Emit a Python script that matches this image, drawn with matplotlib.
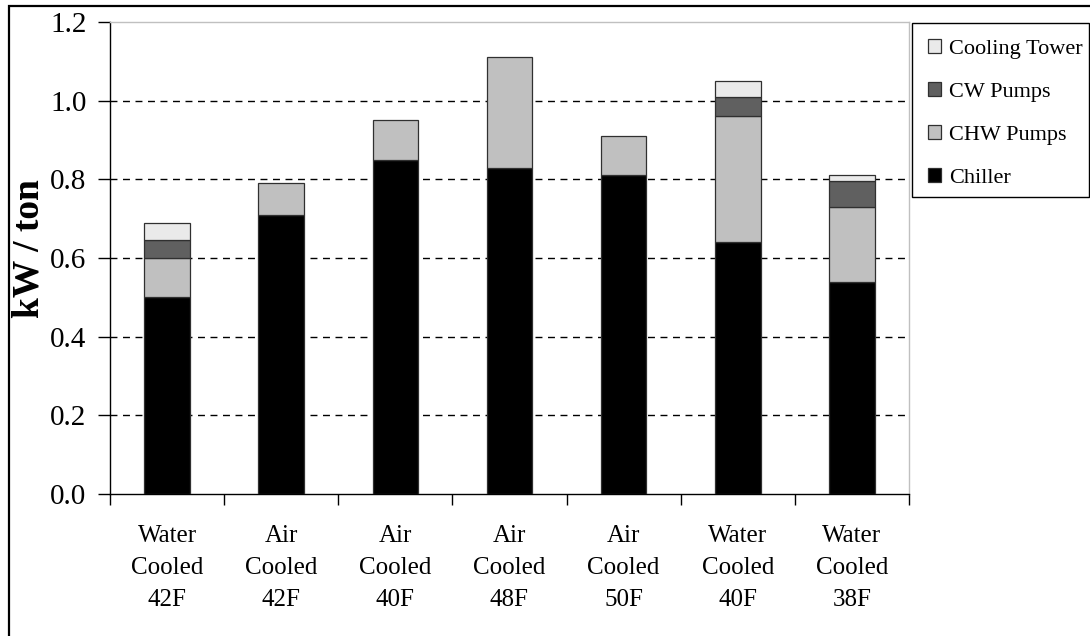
import numpy as np
import matplotlib
matplotlib.use('Agg')
import matplotlib.pyplot as plt
from matplotlib.patches import Patch, Rectangle
from matplotlib import rcParams

rcParams.update({
    'font.family': ['Liberation Serif', 'DejaVu Serif'],
    'axes.linewidth': 1.0,
})

# data
categories = ['Water\nCooled\n42F', 'Air\nCooled\n42F', 'Air\nCooled\n40F',
              'Air\nCooled\n48F', 'Air\nCooled\n50F', 'Water\nCooled\n40F',
              'Water\nCooled\n38F']
chiller = [0.50, 0.71, 0.85, 0.83, 0.81, 0.64, 0.54]
chw_pumps = [0.10, 0.08, 0.10, 0.28, 0.10, 0.32, 0.19]
cw_pumps = [0.045, 0.0, 0.0, 0.0, 0.0, 0.05, 0.065]
cooling_tower = [0.045, 0.0, 0.0, 0.0, 0.0, 0.04, 0.015]

series = [('Chiller', chiller, '#000000'),
          ('CHW Pumps', chw_pumps, '#C0C0C0'),
          ('CW Pumps', cw_pumps, '#606060'),
          ('Cooling Tower', cooling_tower, '#EAEAEA')]

W, H = 1090, 636
fig = plt.figure(figsize=(W / 100, H / 100), dpi=100, facecolor='white')
ax = fig.add_axes([110 / W, 1 - 494 / H, (909 - 110) / W, (494 - 22) / H])

x = np.arange(len(categories))
bottom = np.zeros(len(categories))
for name, vals, col in series:
    vals = np.array(vals)
    m = vals > 0
    ax.bar(x[m], vals[m], width=0.4, bottom=bottom[m], color=col,
           edgecolor='#303030', linewidth=0.9, zorder=3)
    bottom += vals

# grid
ax.set_ylim(0, 1.2)
ax.set_xlim(-0.5, len(categories) - 0.5)
ax.set_yticks(np.arange(0, 1.21, 0.2))
ax.set_yticklabels(['%.1f' % v for v in np.arange(0, 1.21, 0.2)], fontsize=21)
for yv in np.arange(0.2, 1.01, 0.2):
    ax.axhline(yv, color='black', linewidth=1.0, linestyle=(0, (5, 4)), zorder=1)

ax.set_xticks(x)
ax.set_xticklabels(categories, fontsize=18, linespacing=1.6)
ax.set_xticks(np.arange(-0.5, len(categories), 1.0), minor=True)
ax.tick_params(axis='x', which='major', length=0, pad=22)
ax.tick_params(axis='x', which='minor', length=8, width=1.0, direction='out')
ax.tick_params(axis='y', length=9, width=1.0, direction='out', pad=8)

ax.spines['top'].set_color('#C0C0C0')
ax.spines['right'].set_color('#C0C0C0')

ax.set_ylabel('kW / ton', fontsize=27, fontweight='bold')
ax.yaxis.set_label_coords(-0.080, 0.521)

# legend (frame drawn separately to match the box size)
handles = [Patch(facecolor=col, edgecolor='#303030', linewidth=0.9, label=name)
           for name, vals, col in series[::-1]]
leg = fig.legend(handles=handles, loc='upper left',
                 bbox_to_anchor=(912 / W, 1 - 23 / H), borderaxespad=0,
                 fontsize=16, frameon=False,
                 handlelength=0.62, handleheight=0.62, handletextpad=0.35,
                 labelspacing=1.04, borderpad=0.7)
fig.add_artist(Rectangle((912 / W, 1 - 197 / H), (1089 - 912) / W, (197 - 23) / H,
                         transform=fig.transFigure, fill=False,
                         edgecolor='black', linewidth=1.0))

# outer chart border (only left/top visible in the reference)
fig.add_artist(Rectangle((8.5 / W, -0.1), 1.2, 1 - 5.5 / H + 0.1,
                         transform=fig.transFigure, fill=False,
                         edgecolor='black', linewidth=1.6))

fig.savefig('out.png', dpi=100, facecolor='white')
